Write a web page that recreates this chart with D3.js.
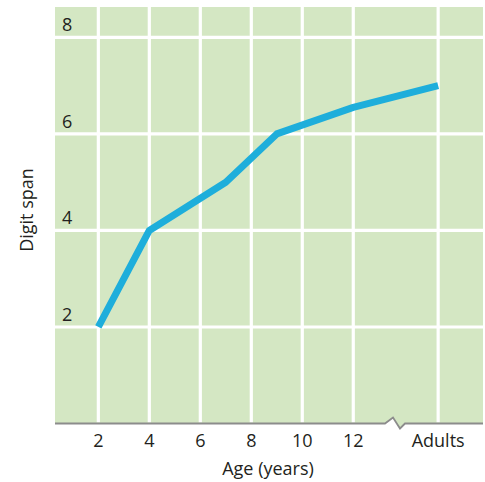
<!DOCTYPE html>
<html><head><meta charset="utf-8">
<script src="https://cdn.jsdelivr.net/npm/d3@7"></script>
<style>body{margin:0;background:#fff}svg{display:block}</style>
</head><body>
<script>
// Data
const ages = [2, 4, 7, 9, 12, "Adults"];
const digitSpan = [2, 4, 5, 6, 6.55, 7];
const xTickLabels = ["2", "4", "6", "8", "10", "12", "Adults"];
const xTickValues = [2, 4, 6, 8, 10, 12, 15.33]; // "Adults" placed after the axis break
const yTickValues = [2, 4, 6, 8];
const adultsPos = 15.33;

(function () {
const W = 485, H = 482;
const svg = d3.select("body").append("svg").attr("width", W).attr("height", H);

const x = d3.scaleLinear().domain([0.3, 17.05]).range([55, 482]);
const y = d3.scaleLinear().domain([0, 8.63]).range([423.5, 7]);
const font = "'Open Sans', 'Noto Sans', sans-serif";
const fs = 18;

const pLeft = x.range()[0], pRight = 483, pTop = y.range()[1], base = y(0);
// break geometry
const b0 = 385, b1 = 393, b2 = 400, b3 = 405;
// green area
svg.append("path")
  .attr("d", `M${pLeft},${pTop}H${pRight}V${base}H${b3}L${b2},${base+5}L${b1},${base-6}L${b0},${base}H${pLeft}Z`)
  .attr("fill", "#d4e7c3");

// gridlines
svg.append("g").selectAll("line").data(xTickValues).join("line")
  .attr("x1", d => x(d)).attr("x2", d => x(d))
  .attr("y1", pTop).attr("y2", base - 1)
  .attr("stroke", "#fff").attr("stroke-width", 3.2);
svg.append("g").selectAll("line").data(yTickValues).join("line")
  .attr("x1", pLeft).attr("x2", pRight)
  .attr("y1", d => y(d)).attr("y2", d => y(d))
  .attr("stroke", "#fff").attr("stroke-width", 3.2);

// baseline with break
svg.append("path")
  .attr("d", `M${pLeft},${base}H${b0}L${b1},${base-6}L${b2},${base+5}L${b3},${base}H${pRight}`)
  .attr("fill", "none").attr("stroke", "#8c8c8c").attr("stroke-width", 1.8);

// y tick labels
svg.append("g").selectAll("text").data(yTickValues).join("text")
  .attr("x", 62).attr("y", d => y(d) - 6)
  .attr("font-family", font).attr("font-size", fs).attr("fill", "#231f20")
  .text(d => d);

// x tick labels
svg.append("g").selectAll("text").data(xTickValues).join("text")
  .attr("x", d => x(d)).attr("y", 447)
  .attr("text-anchor", "middle")
  .attr("font-family", font).attr("font-size", fs).attr("fill", "#231f20")
  .text((d, i) => xTickLabels[i]);

// axis titles
svg.append("text").attr("x", 268).attr("y", 475).attr("text-anchor", "middle")
  .attr("font-family", font).attr("font-size", fs).attr("fill", "#231f20")
  .text("Age (years)");
svg.append("text").attr("transform", "translate(33,210) rotate(-90)").attr("text-anchor", "middle")
  .attr("font-family", font).attr("font-size", fs).attr("fill", "#231f20")
  .text("Digit span");

// line
const pts = ages.map((a, i) => [a === "Adults" ? adultsPos : a, digitSpan[i]]);
svg.append("path").datum(pts)
  .attr("d", d3.line().x(d => x(d[0])).y(d => y(d[1])))
  .attr("fill", "none").attr("stroke", "#1eaedb").attr("stroke-width", 7)
  .attr("stroke-linejoin", "round");
})();
</script>
</body></html>
